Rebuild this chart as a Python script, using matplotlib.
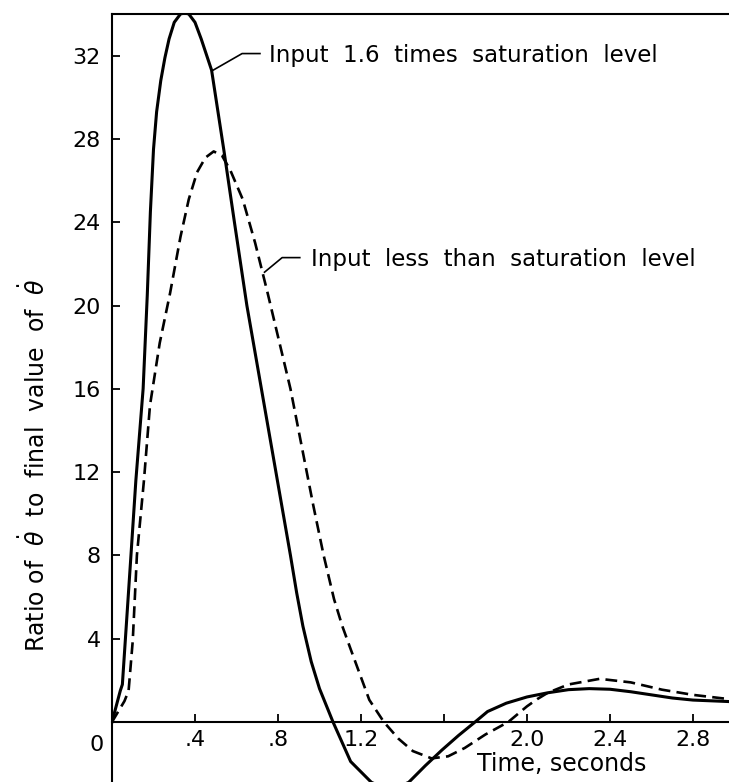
import numpy as np
import matplotlib
matplotlib.use("Agg")
import matplotlib.pyplot as plt

# time axis (seconds) and ratio values
t_sat = [0, 0.04, 0.05, 0.09, 0.115, 0.15, 0.17, 0.185, 0.20, 0.215, 0.235, 0.255, 0.275,
         0.30, 0.33, 0.35, 0.37, 0.40, 0.43, 0.48, 0.54, 0.59, 0.65, 0.72, 0.79, 0.86,
         0.89, 0.92, 0.96, 1.0, 1.065, 1.15, 1.25, 1.34, 1.43, 1.51, 1.59, 1.67, 1.75,
         1.81, 1.9, 2.0, 2.1, 2.2, 2.3, 2.4, 2.5, 2.6, 2.7, 2.8, 2.97]
r_sat = [0, 1.5, 1.8, 7.8, 11.6, 16.0, 20.5, 24.5, 27.5, 29.3, 30.8, 31.9, 32.8,
         33.6, 34.0, 34.05, 34.0, 33.6, 32.8, 31.3, 27.4, 24.0, 20.0, 16.0, 12.0, 8.0,
         6.2, 4.6, 2.9, 1.6, 0, -1.9, -2.9, -3.3, -2.9, -2.1, -1.35, -0.65, 0,
         0.5, 0.9, 1.2, 1.4, 1.55, 1.6, 1.57, 1.45, 1.3, 1.15, 1.05, 0.98]

t_lin = [0, 0.06, 0.08, 0.1, 0.12, 0.154, 0.183, 0.23, 0.28, 0.33, 0.37, 0.41, 0.45,
         0.49, 0.53, 0.57, 0.63, 0.69, 0.75, 0.86, 0.97, 1.02, 1.07, 1.11, 1.15, 1.24,
         1.31, 1.38, 1.45, 1.54, 1.62, 1.7, 1.8, 1.91, 2.0, 2.05, 2.1, 2.2, 2.35, 2.5,
         2.65, 2.8, 2.97]
r_lin = [0, 1.0, 1.5, 3.9, 8.0, 11.6, 15.2, 18.2, 20.6, 23.3, 25.1, 26.4, 27.1,
         27.4, 27.2, 26.5, 25.1, 23.0, 20.6, 16.0, 10.4, 8.0, 5.9, 4.6, 3.5, 1.06,
         0, -0.8, -1.4, -1.75, -1.65, -1.25, -0.6, 0, 0.75, 1.1, 1.4, 1.8, 2.07, 1.9,
         1.55, 1.3, 1.1]

xticks = [0, 0.4, 0.8, 1.2, 1.6, 2.0, 2.4, 2.8]
xtick_labels = ["", ".4", ".8", "1.2", "", "2.0", "2.4", "2.8"]
yticks = [4, 8, 12, 16, 20, 24, 28, 32]

plt.rcParams["font.family"] = ["DejaVu Sans"]
plt.rcParams["lines.scale_dashes"] = False

fig = plt.figure(figsize=(7.29, 7.82), dpi=100)
x0 = 112 / 729
ax = fig.add_axes([x0, 0, 1 - x0, 1 - 14 / 782])
ax.set_xlim(0, 617 / 207.5)
ax.set_ylim(-60 / 20.8, 34.0)

ax.plot(t_sat, r_sat, color="black", lw=2.2, solid_joinstyle="round")
ax.plot(t_lin, r_lin, color="black", lw=1.9, dashes=(8.5, 4.5))

ax.spines["right"].set_visible(False)
ax.spines["bottom"].set_position(("data", 0))
for s in ["left", "top", "bottom"]:
    ax.spines[s].set_linewidth(1.5)

ax.set_xticks(xticks)
ax.set_xticklabels(xtick_labels)
ax.set_yticks(yticks)
ax.tick_params(direction="in", length=6, width=1.3, labelsize=16, colors="black")
ax.tick_params(axis="x", pad=6)
ax.tick_params(axis="y", pad=8)
ax.text(-0.075, -1.1, "0", fontsize=16, ha="center", va="center", clip_on=False)

fig.text(562 / 729, 1 - 764 / 782, "Time, seconds", fontsize=17, ha="center", va="center")
fig.text(35 / 729, 1 - 465 / 782, r"Ratio of  $\dot{\theta}$  to  final  value  of  $\dot{\theta}$",
         fontsize=17, rotation=90, ha="center", va="center")

# leader lines and notes
ax.plot([0.487, 0.627, 0.713], [31.3, 32.1, 32.1], color="black", lw=1.2)
ax.text(0.757, 32.0, "Input  1.6  times  saturation  level", fontsize=16.5, va="center")
ax.plot([0.735, 0.82, 0.905], [21.6, 22.3, 22.3], color="black", lw=1.2)
ax.text(0.96, 22.2, "Input  less  than  saturation  level", fontsize=16.5, va="center")

fig.savefig("out.png", dpi=100)
